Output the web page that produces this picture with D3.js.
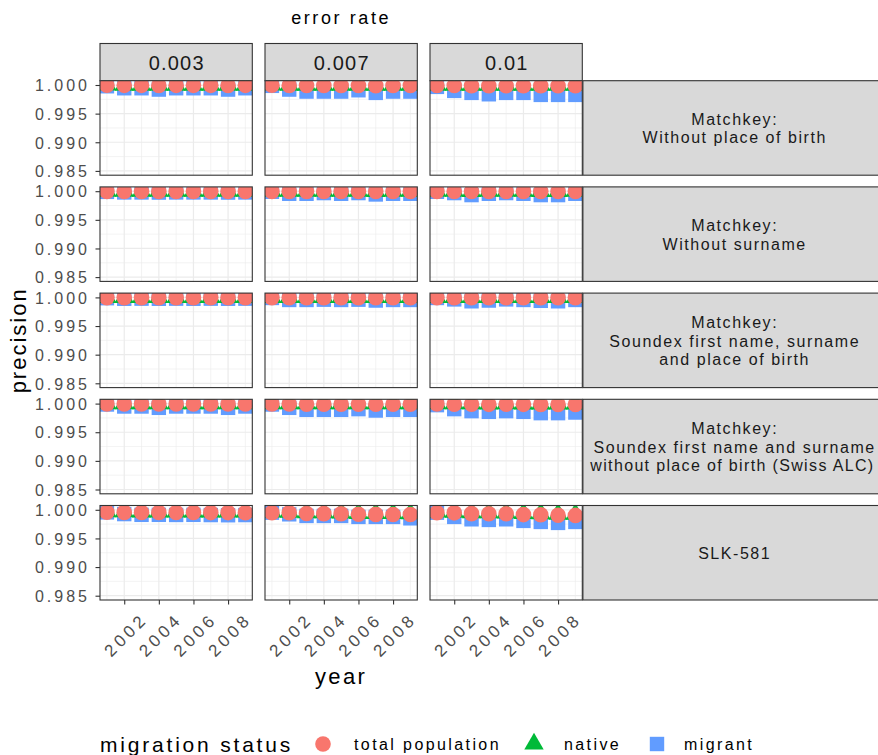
<!DOCTYPE html>
<html>
<head>
<meta charset="utf-8">
<script src="https://cdn.jsdelivr.net/npm/d3@7"></script>
<style>
  body { margin: 0; background: #ffffff; }
  svg { display: block; font-family: "Liberation Sans", Arial, sans-serif; }
</style>
</head>
<body>
<svg id="chart" width="878" height="755"></svg>
<script>
// ---- data -------------------------------------------------------------
const years = [2001, 2002, 2003, 2004, 2005, 2006, 2007, 2008, 2009];
const xTicks = [2002, 2004, 2006, 2008];
const xMinor = [2001, 2003, 2005, 2007, 2009];
const yTicks = [0.985, 0.990, 0.995, 1.000];
const yMinor = [0.9875, 0.9925, 0.9975];
const errorRates = ["0.003", "0.007", "0.01"];
const matchkeys = [
  ["Matchkey:", "Without place of birth"],
  ["Matchkey:", "Without surname"],
  ["Matchkey:", "Soundex first name, surname", "and place of birth"],
  ["Matchkey:", "Soundex first name and surname", "without place of birth (Swiss ALC)"],
  ["SLK-581"]
];
const seriesNames = ["total population", "native", "migrant"];
const seriesColors = ["#F8766D", "#00BA38", "#619CFF"];

// precision by matchkey (outer) and error rate (inner), one value per year
const totalPopulation = [
  [[0.99995, 0.99994, 0.99994, 0.99993, 0.99994, 0.99994, 0.99994, 0.99993, 0.99994],
   [0.99995, 0.99992, 0.99990, 0.99990, 0.99990, 0.99991, 0.99989, 0.99990, 0.99990],
   [0.99993, 0.99990, 0.99988, 0.99987, 0.99988, 0.99988, 0.99986, 0.99986, 0.99986]],
  [[0.99996, 0.99996, 0.99996, 0.99995, 0.99996, 0.99996, 0.99996, 0.99995, 0.99996],
   [0.99996, 0.99995, 0.99995, 0.99995, 0.99995, 0.99995, 0.99994, 0.99995, 0.99995],
   [0.99996, 0.99995, 0.99994, 0.99995, 0.99995, 0.99995, 0.99994, 0.99994, 0.99995]],
  [[0.99996, 0.99996, 0.99996, 0.99995, 0.99996, 0.99995, 0.99996, 0.99995, 0.99996],
   [0.99996, 0.99995, 0.99995, 0.99995, 0.99995, 0.99995, 0.99994, 0.99995, 0.99995],
   [0.99996, 0.99995, 0.99994, 0.99994, 0.99995, 0.99995, 0.99994, 0.99994, 0.99995]],
  [[0.99995, 0.99994, 0.99994, 0.99993, 0.99994, 0.99994, 0.99994, 0.99993, 0.99994],
   [0.99995, 0.99993, 0.99990, 0.99990, 0.99990, 0.99991, 0.99989, 0.99990, 0.99990],
   [0.99994, 0.99990, 0.99988, 0.99987, 0.99988, 0.99987, 0.99986, 0.99986, 0.99986]],
  [[0.99958, 0.99955, 0.99953, 0.99953, 0.99952, 0.99952, 0.99951, 0.99951, 0.99950],
   [0.99950, 0.99948, 0.99935, 0.99933, 0.99932, 0.99922, 0.99920, 0.99919, 0.99918],
   [0.99950, 0.99947, 0.99933, 0.99931, 0.99930, 0.99916, 0.99914, 0.99904, 0.99902]]
];

const native = [
  [[1.00000, 0.99999, 0.99999, 0.99998, 0.99999, 0.99999, 0.99999, 0.99998, 0.99999],
   [1.00000, 0.99999, 0.99998, 0.99998, 0.99998, 0.99998, 0.99997, 0.99998, 0.99998],
   [0.99999, 0.99998, 0.99997, 0.99996, 0.99997, 0.99997, 0.99996, 0.99996, 0.99996]],
  [[1.00000, 1.00000, 0.99999, 0.99999, 0.99999, 0.99999, 0.99999, 0.99999, 0.99999],
   [1.00000, 0.99999, 0.99999, 0.99999, 0.99999, 0.99999, 0.99998, 0.99999, 0.99999],
   [1.00000, 0.99999, 0.99998, 0.99999, 0.99999, 0.99999, 0.99998, 0.99998, 0.99999]],
  [[1.00000, 1.00000, 0.99999, 0.99999, 0.99999, 0.99999, 0.99999, 0.99999, 0.99999],
   [1.00000, 0.99999, 0.99999, 0.99999, 0.99999, 0.99999, 0.99998, 0.99999, 0.99999],
   [1.00000, 0.99999, 0.99998, 0.99998, 0.99999, 0.99999, 0.99998, 0.99998, 0.99999]],
  [[1.00000, 0.99999, 0.99999, 0.99998, 0.99999, 0.99999, 0.99999, 0.99998, 0.99999],
   [1.00000, 0.99999, 0.99998, 0.99998, 0.99998, 0.99998, 0.99997, 0.99998, 0.99998],
   [0.99999, 0.99998, 0.99997, 0.99996, 0.99997, 0.99996, 0.99996, 0.99996, 0.99996]],
  [[0.99968, 0.99966, 0.99965, 0.99965, 0.99964, 0.99964, 0.99963, 0.99963, 0.99962],
   [0.99962, 0.99960, 0.99950, 0.99948, 0.99947, 0.99938, 0.99936, 0.99935, 0.99934],
   [0.99962, 0.99960, 0.99950, 0.99948, 0.99947, 0.99936, 0.99934, 0.99926, 0.99924]]
];

const migrant = [
  [[0.99978, 0.99943, 0.99943, 0.99920, 0.99943, 0.99943, 0.99943, 0.99920, 0.99943],
   [0.99985, 0.99920, 0.99885, 0.99885, 0.99885, 0.99908, 0.99862, 0.99885, 0.99885],
   [0.99967, 0.99897, 0.99862, 0.99838, 0.99862, 0.99862, 0.99827, 0.99827, 0.99827]],
  [[0.99988, 0.99978, 0.99978, 0.99976, 0.99978, 0.99978, 0.99978, 0.99976, 0.99978],
   [0.99990, 0.99955, 0.99955, 0.99967, 0.99955, 0.99967, 0.99943, 0.99955, 0.99955],
   [0.99990, 0.99967, 0.99932, 0.99955, 0.99967, 0.99955, 0.99932, 0.99932, 0.99955]],
  [[0.99986, 0.99976, 0.99978, 0.99976, 0.99978, 0.99976, 0.99978, 0.99976, 0.99978],
   [0.99990, 0.99955, 0.99955, 0.99960, 0.99955, 0.99960, 0.99945, 0.99955, 0.99955],
   [0.99990, 0.99965, 0.99932, 0.99945, 0.99965, 0.99955, 0.99940, 0.99932, 0.99955]],
  [[0.99984, 0.99949, 0.99949, 0.99926, 0.99949, 0.99949, 0.99949, 0.99926, 0.99949],
   [0.99984, 0.99926, 0.99891, 0.99891, 0.99891, 0.99903, 0.99879, 0.99891, 0.99891],
   [0.99973, 0.99903, 0.99868, 0.99856, 0.99868, 0.99856, 0.99833, 0.99833, 0.99844]],
  [[0.99955, 0.99925, 0.99912, 0.99912, 0.99910, 0.99912, 0.99908, 0.99905, 0.99908],
   [0.99950, 0.99921, 0.99893, 0.99893, 0.99893, 0.99876, 0.99876, 0.99876, 0.99851],
   [0.99950, 0.99876, 0.99834, 0.99823, 0.99834, 0.99806, 0.99788, 0.99771, 0.99788]]
];

// ---- layout -----------------------------------------------------------
const svg = d3.select("#chart");
const panelW = 152.3, panelH = 94.5;
const colGap = 12.7, rowGap = 11.7;
const left0 = 100, top0 = 80.7;
const topStripH = 37.2;
const rightStripW = 302;
const colX = errorRates.map((_, i) => left0 + i * (panelW + colGap));
const rowY = matchkeys.map((_, i) => top0 + i * (panelH + rowGap));

const x = d3.scaleLinear().domain([2000.6, 2009.4]).range([0, panelW]);
const y = d3.scaleLinear().domain([0.98425, 1.00075]).range([panelH, 0]);

const ink = "#333333", tickText = "#4D4D4D";
const circleR = 7.8, squareHalf = 7.2, triBase = 7.2;

svg.append("defs").append("clipPath").attr("id", "panel-clip")
  .append("rect").attr("width", panelW).attr("height", panelH);

function trianglePath(cx, cy) {
  const up = 1.5551 * triBase, down = 0.7776 * triBase, half = 1.3468 * triBase;
  return `M${cx},${cy - up}L${cx + half},${cy + down}L${cx - half},${cy + down}Z`;
}

// column strips (error rate)
errorRates.forEach((er, c) => {
  const g = svg.append("g").attr("transform", `translate(${colX[c]},${top0 - topStripH})`);
  g.append("rect").attr("width", panelW).attr("height", topStripH)
    .attr("fill", "#D9D9D9").attr("stroke", ink).attr("stroke-width", 1.1);
  g.append("text").attr("x", panelW / 2 + 0.6).attr("y", topStripH / 2 + 7.5)
    .attr("text-anchor", "middle").attr("font-size", 20).attr("letter-spacing", 1.2)
    .attr("fill", "#1A1A1A").text(er);
});

// row strips (matchkey); the strip runs past the right edge of the page
matchkeys.forEach((lines, r) => {
  const g = svg.append("g").attr("transform", `translate(${colX[2] + panelW + 0.6},${rowY[r]})`);
  g.append("rect").attr("width", rightStripW).attr("height", panelH)
    .attr("fill", "#D9D9D9").attr("stroke", ink).attr("stroke-width", 1.1);
  const lh = 18.5;
  const start = panelH / 2 - (lines.length - 1) * lh / 2 + 6.3;
  lines.forEach((ln, i) => {
    const longLine = ln.length > 30;
    g.append("text").attr("x", rightStripW / 2 + (longLine ? -1.5 : 0.8)).attr("y", start + i * lh)
      .attr("text-anchor", "middle").attr("font-size", 16)
      .attr("letter-spacing", longLine ? 1.35 : 1.55)
      .attr("fill", "#1A1A1A").text(ln);
  });
});

// panels
matchkeys.forEach((_, r) => {
  errorRates.forEach((_, c) => {
    const g = svg.append("g").attr("transform", `translate(${colX[c]},${rowY[r]})`);
    g.append("rect").attr("width", panelW).attr("height", panelH).attr("fill", "#ffffff");

    // grid
    g.selectAll(".xminor").data(xMinor).join("line")
      .attr("x1", d => x(d)).attr("x2", d => x(d)).attr("y1", 0).attr("y2", panelH)
      .attr("stroke", "#EBEBEB").attr("stroke-width", 0.6);
    g.selectAll(".yminor").data(yMinor).join("line")
      .attr("y1", d => y(d)).attr("y2", d => y(d)).attr("x1", 0).attr("x2", panelW)
      .attr("stroke", "#EBEBEB").attr("stroke-width", 0.6);
    g.selectAll(".xmajor").data(xTicks).join("line")
      .attr("x1", d => x(d)).attr("x2", d => x(d)).attr("y1", 0).attr("y2", panelH)
      .attr("stroke", "#EBEBEB").attr("stroke-width", 1.2);
    g.selectAll(".ymajor").data(yTicks).join("line")
      .attr("y1", d => y(d)).attr("y2", d => y(d)).attr("x1", 0).attr("x2", panelW)
      .attr("stroke", "#EBEBEB").attr("stroke-width", 1.2);

    // marks
    const marks = g.append("g").attr("clip-path", "url(#panel-clip)");
    const rows = years.map((yr, i) => ({
      year: yr,
      total: totalPopulation[r][c][i],
      native: native[r][c][i],
      migrant: migrant[r][c][i]
    }));
    marks.selectAll(".sq").data(rows).join("rect")
      .attr("x", d => x(d.year) - squareHalf).attr("y", d => y(d.migrant) - squareHalf)
      .attr("width", squareHalf * 2).attr("height", squareHalf * 2)
      .attr("fill", seriesColors[2]);
    marks.selectAll(".tri").data(rows).join("path")
      .attr("d", d => trianglePath(x(d.year), y(d.native)))
      .attr("fill", seriesColors[1]);
    marks.selectAll(".dot").data(rows).join("circle")
      .attr("cx", d => x(d.year)).attr("cy", d => y(d.total)).attr("r", circleR)
      .attr("fill", seriesColors[0]);

    g.append("rect").attr("width", panelW).attr("height", panelH)
      .attr("fill", "none").attr("stroke", ink).attr("stroke-width", 1.1);

    // y axis on first column
    if (c === 0) {
      const ax = g.append("g").call(d3.axisLeft(y).tickValues(yTicks).tickFormat(d3.format(".3f"))
        .tickSize(4.5).tickPadding(5.5));
      ax.select(".domain").remove();
      ax.selectAll(".tick line").attr("stroke", ink).attr("stroke-width", 1.1);
      ax.selectAll(".tick text").attr("fill", tickText).attr("font-size", 16)
        .attr("letter-spacing", 3).attr("font-family", "Liberation Sans, Arial, sans-serif")
        .attr("dy", "0.36em");
    }
    // x axis on bottom row
    if (r === matchkeys.length - 1) {
      const ax = g.append("g").attr("transform", `translate(0,${panelH})`)
        .call(d3.axisBottom(x).tickValues(xTicks).tickFormat(d3.format("d")).tickSize(4.5));
      ax.select(".domain").remove();
      ax.selectAll(".tick line").attr("stroke", ink).attr("stroke-width", 1.1);
      ax.selectAll(".tick text").attr("fill", tickText).attr("font-size", 17)
        .attr("letter-spacing", 3.8).attr("font-family", "Liberation Sans, Arial, sans-serif")
        .attr("text-anchor", "middle").attr("dy", null).attr("y", null)
        .attr("dominant-baseline", "central")
        .attr("transform", "translate(1.5,35) rotate(-45)");
    }
  });
});

// titles
const plotMidX = (colX[0] + colX[2] + panelW) / 2;
const plotMidY = (rowY[0] + rowY[rowY.length - 1] + panelH) / 2;
svg.append("text").attr("x", plotMidX).attr("y", 24).attr("text-anchor", "middle")
  .attr("font-size", 18).attr("letter-spacing", 2.6).attr("fill", "#000").text("error rate");
svg.append("text").attr("x", plotMidX).attr("y", 684).attr("text-anchor", "middle")
  .attr("font-size", 22).attr("letter-spacing", 2.4).attr("fill", "#000").text("year");
svg.append("text").attr("transform", `translate(26,${plotMidY}) rotate(-90)`)
  .attr("text-anchor", "middle").attr("font-size", 22).attr("letter-spacing", 2)
  .attr("fill", "#000").text("precision");

// legend
const legY = 744;
const legend = svg.append("g");
legend.append("text").attr("x", 100).attr("y", legY + 8).attr("font-size", 21)
  .attr("letter-spacing", 2.8).attr("fill", "#000").text("migration status");
const keyX = [323, 534, 657];
const labelX = [354, 564, 684];
legend.append("circle").attr("cx", keyX[0]).attr("cy", legY).attr("r", circleR).attr("fill", seriesColors[0]);
legend.append("path").attr("d", trianglePath(keyX[1], legY)).attr("fill", seriesColors[1]);
legend.append("rect").attr("x", keyX[2] - squareHalf).attr("y", legY - squareHalf)
  .attr("width", squareHalf * 2).attr("height", squareHalf * 2).attr("fill", seriesColors[2]);
seriesNames.forEach((nm, i) => {
  legend.append("text").attr("x", labelX[i]).attr("y", legY + 6).attr("font-size", 16)
    .attr("letter-spacing", 2.4).attr("fill", "#000").text(nm);
});
</script>
</body>
</html>
